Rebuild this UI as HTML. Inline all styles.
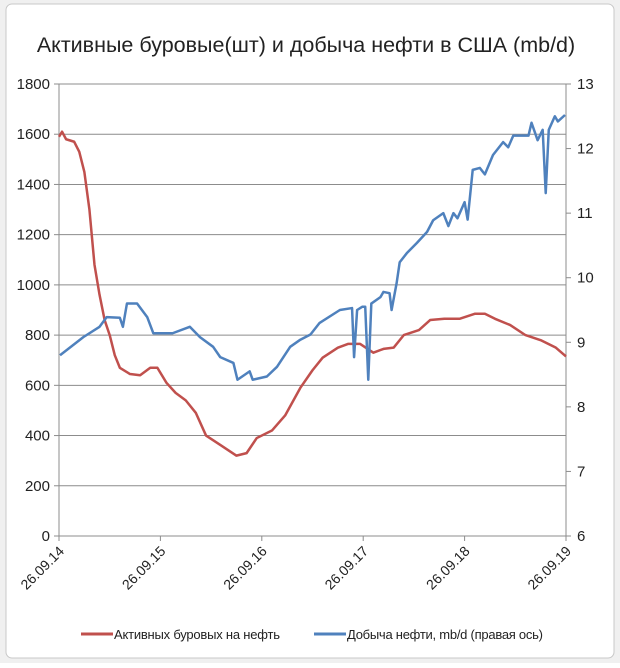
<!DOCTYPE html>
<html><head><meta charset="utf-8"><style>
body{margin:0;background:#fff;}
svg text{font-family:"Liberation Sans",sans-serif;fill:#222;}
</style></head><body>
<svg width="620" height="663" viewBox="0 0 620 663" xmlns="http://www.w3.org/2000/svg">
<rect x="0" y="0" width="620" height="663" fill="#f0f0f0"/>
<rect x="6" y="4" width="608" height="654" rx="6" fill="#fff" stroke="#c8c8c8"/>
<text x="306" y="52" font-size="21.5" text-anchor="middle">Активные буровые(шт) и добыча нефти в США (mb/d)</text>
<g id="grid"></g><g id="axes"></g><g id="series"></g>
<g>
<line x1="81" y1="634" x2="113" y2="634" stroke="#c0504d" stroke-width="3"/>
<text x="114" y="639" font-size="13" textLength="166">Активных буровых  на нефть</text>
<line x1="314" y1="634" x2="346" y2="634" stroke="#4f81bd" stroke-width="3"/>
<text x="347" y="639" font-size="13" textLength="196">Добыча нефти, mb/d  (правая ось)</text>
</g>
</svg>
<script>
const xTickLabels=["26.09.14","26.09.15","26.09.16","26.09.17","26.09.18","26.09.19"];
const leftTicks=[0,200,400,600,800,1000,1200,1400,1600,1800];
const rightTicks=[6,7,8,9,10,11,12,13];
const rigYears=[0,0.03,0.07,0.15,0.2,0.25,0.3,0.35,0.4,0.45,0.5,0.55,0.6,0.7,0.8,0.9,0.97,1.06,1.15,1.25,1.35,1.45,1.6,1.75,1.85,1.95,2.1,2.23,2.38,2.5,2.6,2.75,2.85,2.97,3.1,3.2,3.3,3.4,3.55,3.66,3.8,3.95,4.1,4.2,4.3,4.45,4.6,4.75,4.9,5.0];
const rigValues=[1590,1610,1580,1570,1530,1450,1300,1080,960,860,800,720,670,645,640,670,670,610,570,540,490,400,360,320,330,390,420,480,590,660,710,750,765,765,730,745,750,800,820,860,865,865,885,885,865,840,800,780,750,715];
const oilYears=[0.01,0.24,0.40,0.47,0.60,0.63,0.67,0.77,0.87,0.93,1.12,1.29,1.39,1.52,1.59,1.72,1.76,1.88,1.91,2.05,2.15,2.28,2.38,2.48,2.57,2.77,2.89,2.91,2.94,2.99,3.02,3.05,3.08,3.17,3.20,3.26,3.28,3.33,3.36,3.43,3.53,3.63,3.69,3.79,3.84,3.89,3.93,4.00,4.03,4.08,4.15,4.20,4.28,4.38,4.43,4.48,4.63,4.66,4.72,4.77,4.80,4.83,4.89,4.92,4.99];
const oilValues=[8.80,9.08,9.24,9.39,9.38,9.24,9.6,9.6,9.39,9.14,9.14,9.24,9.08,8.93,8.77,8.68,8.42,8.55,8.42,8.47,8.62,8.93,9.04,9.12,9.3,9.5,9.53,8.77,9.5,9.55,9.55,8.42,9.6,9.7,9.78,9.76,9.5,9.92,10.24,10.38,10.54,10.71,10.89,11.0,10.8,11.0,10.92,11.17,10.9,11.67,11.7,11.6,11.9,12.1,12.02,12.2,12.2,12.4,12.13,12.29,11.31,12.29,12.5,12.42,12.52];
const L=59,R=566,T=84,B=536;
const xs=t=>L+t*(R-L)/5;
const yl=v=>B-v*(B-T)/1800;
const yr=v=>B-(v-6)*(B-T)/7;
const NS="http://www.w3.org/2000/svg";
function mk(tag,attrs,parent){const e=document.createElementNS(NS,tag);for(const k in attrs)e.setAttribute(k,attrs[k]);parent.appendChild(e);return e;}
const grid=document.getElementById('grid'),axes=document.getElementById('axes'),series=document.getElementById('series');
leftTicks.forEach(v=>{
 if(v>0){const g=mk('line',{x1:L,x2:R,y1:yl(v),y2:yl(v),stroke:'#8c8c8c','stroke-width':1},grid);
 
 }
 const tk=mk('line',{x1:L-5,x2:L,y1:yl(v),y2:yl(v),stroke:'#8c8c8c'},axes);
 
 
 const t=mk('text',{x:L-9,y:yl(v)+5,'font-size':15,'text-anchor':'end'},axes);t.textContent=v;
 
 
});
rightTicks.forEach(v=>{
 const tk=mk('line',{x1:R,x2:R+5,y1:yr(v),y2:yr(v),stroke:'#8c8c8c'},axes);
 
 
 const t=mk('text',{x:R+11,y:yr(v)+5,'font-size':15},axes);t.textContent=v;
 
 
});
const ax1=mk('line',{x1:L,x2:L,y1:T,y2:B,stroke:'#8c8c8c'},axes);


const ax2=mk('line',{x1:R,x2:R,y1:T,y2:B,stroke:'#8c8c8c'},axes);


const ax3=mk('line',{x1:L,x2:R,y1:B,y2:B,stroke:'#8c8c8c'},axes);


xTickLabels.forEach((lab,i)=>{
 const x=xs(i);
 const tk=mk('line',{x1:x,x2:x,y1:B,y2:B+5,stroke:'#8c8c8c'},axes);
 
 
 const t=mk('text',{x:x+6,y:B+16,'font-size':14,'text-anchor':'end',transform:`rotate(-45 ${x+6} ${B+16})`},axes);t.textContent=lab;
 
 
});
const rp=mk('polyline',{points:rigYears.map((t,i)=>xs(t)+','+yl(rigValues[i])).join(' '),fill:'none',stroke:'#c0504d','stroke-width':2.5,'stroke-linejoin':'round'},series);


const op=mk('polyline',{points:oilYears.map((t,i)=>xs(t)+','+yr(oilValues[i])).join(' '),fill:'none',stroke:'#4f81bd','stroke-width':2.5,'stroke-linejoin':'round'},series);


</script>
</body></html>
